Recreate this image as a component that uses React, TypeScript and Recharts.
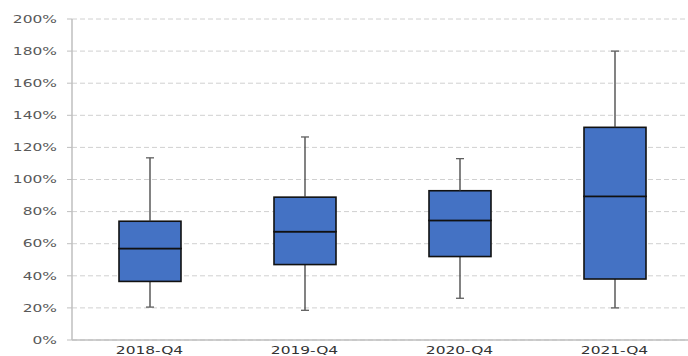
import React from 'react';
import { ComposedChart, Bar, XAxis, YAxis, CartesianGrid } from 'recharts';

// quartal, box plot values in %
const quarters = ['2018-Q4', '2019-Q4', '2020-Q4', '2021-Q4'];
const mins = [20.5, 18.5, 26, 20];
const q1s = [36.5, 47, 52, 38];
const medians = [57, 67.5, 74.5, 89.5];
const q3s = [74, 89, 93, 132.5];
const maxs = [113.5, 126.5, 113, 180];
const yTicks = [0, 20, 40, 60, 80, 100, 120, 140, 160, 180, 200];

const data = quarters.map((name, i) => ({
    name,
    base: mins[i],
    lowWhisker: q1s[i] - mins[i],
    lowBox: medians[i] - q1s[i],
    highBox: q3s[i] - medians[i],
    highWhisker: maxs[i] - q3s[i],
}));

const FONT = '"DejaVu Sans", Verdana, sans-serif';

const BoxShape = (props: any) => {
    const { x, y, width, height } = props;
    return <rect x={x} y={y} width={width} height={height} fill="#4472C4" stroke="#111" strokeWidth={1.6} />;
};

const makeWhisker = (capAtTop: boolean) => (props: any) => {
    const { x, y, width, height } = props;
    const cx = x + width / 2;
    const capY = capAtTop ? y : y + height;
    return (
        <g>
            <line x1={cx} x2={cx} y1={y} y2={y + height} stroke="#404040" strokeWidth={1.3} />
            <line x1={cx - 4} x2={cx + 4} y1={capY} y2={capY} stroke="#606060" strokeWidth={1.3} />
        </g>
    );
};

const YTick = (props: any) => {
    const { x, y, payload } = props;
    return (
        <g transform={`translate(${x},${y})`}>
            <text transform="scale(1.5,1)" textAnchor="end" dy="0.36em" fontSize={10.3} fontFamily={FONT} fill="#595959">
                {payload.value}%
            </text>
        </g>
    );
};

const XTick = (props: any) => {
    const { x, y, payload } = props;
    return (
        <g transform={`translate(${x},${y})`}>
            <text transform="scale(1.5,1)" textAnchor="middle" dy="0.71em" fontSize={10.3} fontFamily={FONT} fill="#333">
                {payload.value}
            </text>
        </g>
    );
};

export default function App() {
    return (
        <div style={{ position: 'absolute', left: 0, top: 0, width: 688, height: 356, overflow: 'hidden', background: '#fff' }}>
            <ComposedChart width={692} height={356} data={data} margin={{ top: 19, right: 0, left: 0, bottom: 0 }} barSize={62}>
                <CartesianGrid vertical={false} stroke="#d0d0d0" strokeDasharray="5 3" />
                <XAxis xAxisId="edge" type="number" domain={[0, 4]} ticks={[0, 1, 2, 3, 4]} height={0}
                    axisLine={false} tickSize={4} tickLine={{ stroke: '#bfbfbf' }} tick={() => <g />} />
                <XAxis dataKey="name" height={16} axisLine={{ stroke: '#bfbfbf', strokeWidth: 1.5 }} tickLine={false}
                    tickSize={4} tickMargin={3} tick={<XTick />} />
                <YAxis width={72} domain={[0, 200]} ticks={yTicks} interval={0} axisLine={{ stroke: '#bfbfbf', strokeWidth: 1.5 }}
                    tickLine={{ stroke: '#bfbfbf' }} tickSize={5} tickMargin={10} tick={<YTick />} />
                <Bar dataKey="base" stackId="a" fill="none" isAnimationActive={false} />
                <Bar dataKey="lowWhisker" stackId="a" shape={makeWhisker(false)} isAnimationActive={false} />
                <Bar dataKey="lowBox" stackId="a" shape={<BoxShape />} isAnimationActive={false} />
                <Bar dataKey="highBox" stackId="a" shape={<BoxShape />} isAnimationActive={false} />
                <Bar dataKey="highWhisker" stackId="a" shape={makeWhisker(true)} isAnimationActive={false} />
            </ComposedChart>
        </div>
    );
}
